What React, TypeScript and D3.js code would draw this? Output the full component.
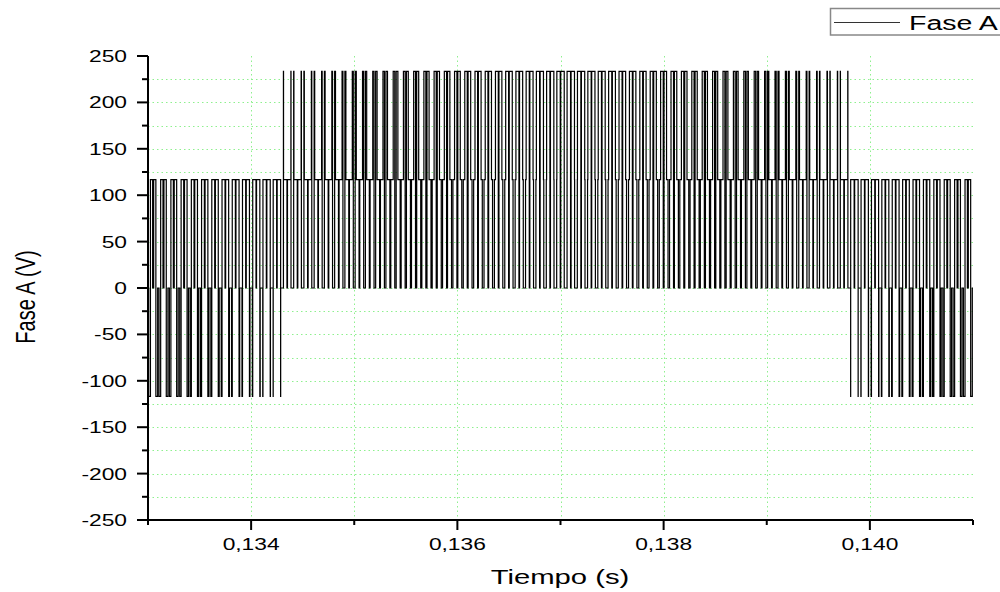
import React from 'react';
import * as d3 from 'd3';

// ---------------- data ----------------
const T_START = 0.133;
const T_END = 0.141;
const CARRIER_PERIOD = 0.0001; // s, pulse spacing (~10.3 px)
const LEVEL = 116.7; // V, step height of the phase voltage
const MOD_INDEX = 0.9;

// per-carrier-period phase references (A, B, C), estimated from pulse widths
const refA = [0.059,0.097,0.134,0.171,0.208,0.245,0.281,0.317,0.353,0.388,
  0.422,0.456,0.489,0.522,0.554,0.585,0.615,0.644,0.673,0.700,
  0.726,0.752,0.776,0.799,0.821,0.842,0.862,0.880,0.898,0.914,
  0.928,0.942,0.954,0.964,0.974,0.982,0.988,0.993,0.997,0.999,
  1.000,0.999,0.997,0.994,0.989,0.983,0.975,0.966,0.956,0.944,
  0.931,0.917,0.901,0.884,0.866,0.846,0.826,0.804,0.781,0.757,
  0.731,0.705,0.678,0.650,0.621,0.591,0.560,0.528,0.496,0.463,
  0.429,0.395,0.360,0.325,0.289,0.252,0.216,0.179,0.142,0.104];
const refB = [0.835,0.814,0.791,0.768,0.743,0.717,0.690,0.662,0.634,0.604,
  0.574,0.542,0.511,0.478,0.444,0.410,0.375,0.340,0.305,0.269,
  0.232,0.195,0.158,0.121,0.083,0.046,0.008,-0.030,-0.067,-0.105,
  -0.142,-0.180,-0.217,-0.253,-0.289,-0.325,-0.361,-0.396,-0.430,-0.464,
  -0.497,-0.529,-0.561,-0.591,-0.621,-0.651,-0.679,-0.706,-0.732,-0.757,
  -0.781,-0.804,-0.826,-0.847,-0.866,-0.884,-0.901,-0.917,-0.931,-0.945,
  -0.956,-0.967,-0.976,-0.983,-0.989,-0.994,-0.997,-0.999,-1.000,-0.999,
  -0.997,-0.993,-0.988,-0.981,-0.973,-0.964,-0.953,-0.941,-0.928,-0.913];
const refC = [-0.894,-0.911,-0.925,-0.939,-0.951,-0.962,-0.971,-0.979,-0.987,-0.992,
  -0.996,-0.998,-1.000,-1.000,-0.998,-0.995,-0.990,-0.984,-0.978,-0.969,
  -0.958,-0.947,-0.934,-0.920,-0.904,-0.888,-0.870,-0.850,-0.831,-0.809,
  -0.786,-0.762,-0.737,-0.711,-0.685,-0.657,-0.627,-0.597,-0.567,-0.535,
  -0.503,-0.470,-0.436,-0.403,-0.368,-0.332,-0.296,-0.260,-0.224,-0.187,
  -0.150,-0.113,-0.075,-0.037,0.000,0.038,0.075,0.113,0.150,0.188,
  0.225,0.262,0.298,0.333,0.368,0.403,0.437,0.471,0.504,0.536,
  0.568,0.598,0.628,0.656,0.684,0.712,0.737,0.762,0.786,0.809];

const xTicksMajor = [0.134, 0.136, 0.138, 0.140];
const xTickLabels = ['0,134', '0,136', '0,138', '0,140'];
const xTicksMinor = [0.133, 0.135, 0.137, 0.139, 0.141];
const xGrid = [0.134, 0.135, 0.136, 0.137, 0.138, 0.139, 0.140];
const yTicksMajor = [-250, -200, -150, -100, -50, 0, 50, 100, 150, 200, 250];
const yTicksMinor = [-225, -175, -125, -75, -25, 25, 75, 125, 175, 225];
const yGrid = [-225, -200, -175, -150, -125, -100, -75, -50, -25, 0, 25, 50, 75, 100, 125, 150, 175, 200, 225];

const seriesName = 'Fase A';
const xTitle = 'Tiempo (s)';
const yTitle = 'Fase A (V)';

// ---------------- layout ----------------
const W = 1000, H = 592;
const X0 = 148, X1 = 973, Y0 = 520, Y1 = 56;
const SX = 1.38; // horizontal text stretch in the reference
const FONT = "'Liberation Sans', Arial, sans-serif";
const GRID = '#8ef08e';

function buildWave(): [number, number][] {
  const pts: [number, number][] = [[T_START, 0]];
  for (let k = 0; k < refA.length; k++) {
    const c = T_START + (k + 0.5) * CARRIER_PERIOD;
    const refs = [refA[k], refB[k], refC[k]];
    const ev: { t: number; i: number; on: number }[] = [];
    refs.forEach((r, i) => {
      const half = (0.5 + 0.5 * MOD_INDEX * r) * CARRIER_PERIOD / 2;
      ev.push({ t: c - half, i, on: 1 });
      ev.push({ t: c + half, i, on: 0 });
    });
    ev.sort((a, b) => a.t - b.t);
    const s = [0, 0, 0];
    for (const e of ev) {
      s[e.i] = e.on;
      pts.push([e.t, (2 * s[0] - s[1] - s[2]) * LEVEL]);
    }
  }
  pts.push([T_END, 0]);
  return pts;
}

export default function App() {
  const x = d3.scaleLinear().domain([T_START, T_END]).range([X0, X1]);
  const y = d3.scaleLinear().domain([-250, 250]).range([Y0, Y1]);
  const line = d3.line<[number, number]>().x(d => x(d[0])).y(d => y(d[1])).curve(d3.curveStepAfter);
  const wave = buildWave();

  return (
    <div style={{ position: 'fixed', left: 0, top: 0 }}>
      <svg width={W} height={H} style={{ display: 'block', background: '#fff' }}>
        <defs>
          <clipPath id="plot">
            <rect x={X0} y={Y1 - 1} width={X1 - X0} height={Y0 - Y1 + 2} />
          </clipPath>
        </defs>
        {/* grid */}
        <g stroke={GRID} strokeWidth={1} strokeDasharray="1.5 3">
          {yGrid.map(v => (
            <line key={'gy' + v} x1={X0} x2={X1} y1={Math.round(y(v)) + 0.5} y2={Math.round(y(v)) + 0.5} />
          ))}
          {xGrid.map(v => (
            <line key={'gx' + v} x1={Math.round(x(v)) + 0.5} x2={Math.round(x(v)) + 0.5} y1={Y1} y2={Y0} />
          ))}
        </g>
        {/* waveform */}
        <path d={line(wave) || ''} fill="none" stroke="#000" strokeWidth={1.2} clipPath="url(#plot)" />
        {/* axes */}
        <g stroke="#000" strokeWidth={2}>
          <line x1={X0} x2={X0} y1={Y1} y2={Y0 + 1} />
          <line x1={X0 - 1} x2={X1} y1={Y0} y2={Y0} />
          {yTicksMajor.map(v => (
            <line key={'ym' + v} x1={X0 - 11} x2={X0} y1={y(v)} y2={y(v)} />
          ))}
          {yTicksMinor.map(v => (
            <line key={'yn' + v} x1={X0 - 6} x2={X0} y1={y(v)} y2={y(v)} />
          ))}
          {xTicksMajor.map(v => (
            <line key={'xm' + v} x1={x(v)} x2={x(v)} y1={Y0} y2={Y0 + 10} />
          ))}
          {xTicksMinor.map(v => (
            <line key={'xn' + v} x1={x(v)} x2={x(v)} y1={Y0} y2={Y0 + 5} />
          ))}
        </g>
        {/* tick labels */}
        <g fontFamily={FONT} fontSize={16.5} fill="#000">
          {yTicksMajor.map(v => (
            <text key={'yl' + v} transform={`translate(127,${y(v) + 6}) scale(${SX},1)`} textAnchor="end">
              {String(v)}
            </text>
          ))}
          {xTicksMajor.map((v, i) => (
            <text key={'xl' + v} transform={`translate(${x(v)},550) scale(${SX},1)`} textAnchor="middle">
              {xTickLabels[i]}
            </text>
          ))}
        </g>
        {/* axis titles */}
        <text transform={`translate(560,584) scale(1.5,1)`} textAnchor="middle" fontFamily={FONT} fontSize={19.5}>
          {xTitle}
        </text>
        <text transform={`translate(35,297) scale(${SX},1) rotate(-90)`} textAnchor="middle" fontFamily={FONT} fontSize={20}>
          {yTitle}
        </text>
        {/* legend */}
        <rect x={830.5} y={8.5} width={200} height={26.5} fill="#fff" stroke="#888" strokeWidth={1.5} />
        <line x1={834} x2={900} y1={22.5} y2={22.5} stroke="#333" strokeWidth={1} />
        <text transform={`translate(909,30) scale(1.36,1)`} fontFamily={FONT} fontSize={21}>
          {seriesName}
        </text>
      </svg>
    </div>
  );
}
